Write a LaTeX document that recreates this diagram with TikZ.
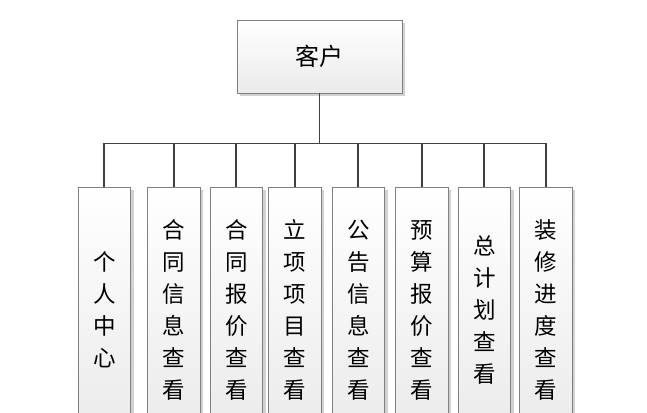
\documentclass[tikz,border=0pt]{standalone}
\usepackage{fontspec}
\setmainfont{Noto Sans CJK SC}
\usetikzlibrary{positioning,shadows}

\begin{document}
\begin{tikzpicture}[x=1pt, y=-1pt,
	main/.style={rectangle, draw=black!50, line width=0.8pt, top color=white, bottom color=black!8,
		drop shadow={shadow xshift=3pt, shadow yshift=-3pt, fill=black!18, opacity=1},
		inner sep=0pt, outer sep=0pt, align=center},
	sub/.style={main, minimum width=52.5pt, minimum height=246pt, font=\fontsize{22.5}{32}\selectfont},
	link/.style={draw=black!75, line width=1.7pt}
	]
	\clip (0,0) rectangle (647,412);

	\node (client) [main, minimum width=165pt, minimum height=73pt, font=\fontsize{24}{28}\selectfont] at (319.5,56.5) {客户};

		\node (center) [sub] at (104.25,310) {个\\人\\中\\心};
		\node (contract) [sub, right=17pt of center] {合\\同\\信\\息\\查\\看};
		\node (quote) [sub, right=10pt of contract] {合\\同\\报\\价\\查\\看};
		\node (project) [sub, right=6pt of quote] {立\\项\\项\\目\\查\\看};
		\node (notice) [sub, right=11pt of project] {公\\告\\信\\息\\查\\看};
		\node (budget) [sub, right=11pt of notice] {预\\算\\报\\价\\查\\看};
		\node (plan) [sub, right=10pt of budget] {总\\计\\划\\查\\看};
		\node (progress) [sub, right=9pt of plan] {装\\修\\进\\度\\查\\看};

	\draw [link] (client.south)--++(0,50.5)-| (center.north);
	\draw [link] (client.south)--++(0,50.5)-| (contract.north);
	\draw [link] (client.south)--++(0,50.5)-| (quote.north);
	\draw [link] (client.south)--++(0,50.5)-| (project.north);
	\draw [link] (client.south)--++(0,50.5)-| (notice.north);
	\draw [link] (client.south)--++(0,50.5)-| (budget.north);
	\draw [link] (client.south)--++(0,50.5)-| (plan.north);
	\draw [link] (client.south)--++(0,50.5)-| (progress.north);

\end{tikzpicture}
\end{document}
